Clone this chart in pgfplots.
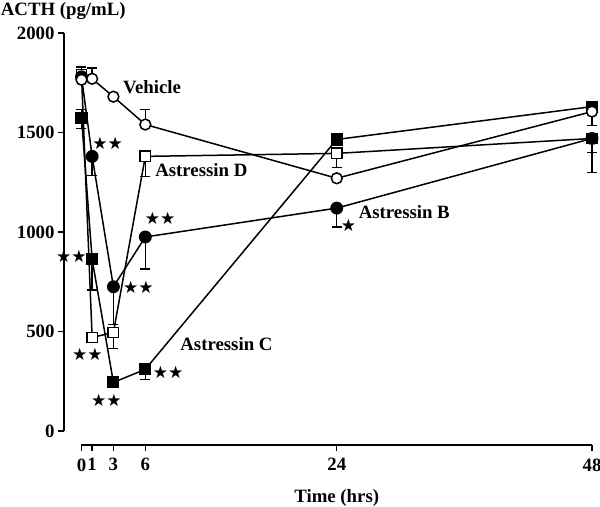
\documentclass[border=0pt]{standalone}
\usepackage{fontspec}
\setmainfont{Liberation Serif}
\newfontfamily\symfont{DejaVu Sans}
\usepackage{pgfplots}
\pgfplotsset{compat=1.18}
\newcommand\stars[1]{{\symfont\fontsize{17bp}{19bp}\selectfont #1}}
\begin{document}
\begin{tikzpicture}[font=\fontsize{18.8bp}{22bp}\selectfont\bfseries]
\begin{axis}[
  name=ax,
  scale only axis,
  width=510.5bp, height=398bp,
  xmin=0, xmax=48, ymin=0, ymax=2000,
  axis lines=left,
  axis line style={-, line width=1.8bp},
  axis x line shift=14bp,
  axis y line shift=17.5bp,
  xtick={0,1,3,6,24,48},
  xticklabels={0,1,3,6,24,48},
  xticklabel style={yshift=-4bp},
  ytick={0,500,1000,1500,2000},
  yticklabels={0,500,1000,1500,2000},
  tick align=outside,
  major tick length=6bp,
  tick style={line width=1.5bp, black},
  clip=false,
  error bars/error bar style={line width=1.5bp, black, solid},
  error bars/error mark=-,
  error bars/error mark options={line width=1.5bp, mark size=5bp, rotate=90, black, solid},
]
% Astressin C
\addplot[black, line width=1.5bp, mark=square*, mark size=5.3bp, mark options={fill=black, draw=black, solid},
  error bars/.cd, y dir=both, y explicit]
  coordinates {(0,1575) += (0,40) -= (0,55) (1,863) += (0,0) -= (0,155) (3,244) += (0,0) -= (0,0)
  (6,310) += (0,0) -= (0,50) (24,1465) += (0,0) -= (0,0) (48,1630) += (0,0) -= (0,0)};
% Astressin D
\addplot[black, line width=1.5bp, mark=square*, mark size=5.2bp, mark options={fill=white, draw=black, solid},
  error bars/.cd, y dir=both, y explicit]
  coordinates {(0,1790) += (0,20) -= (0,0) (1,470) += (0,0) -= (0,0) (3,495) += (0,0) -= (0,80)
  (6,1380) += (0,0) -= (0,100) (24,1395) += (0,0) -= (0,70) (48,1470) += (0,0) -= (0,70)};
% Astressin B
\addplot[black, line width=1.5bp, mark=*, mark size=5.7bp, mark options={fill=black, draw=black, solid},
  error bars/.cd, y dir=both, y explicit]
  coordinates {(0,1780) += (0,0) -= (0,0) (1,1380) += (0,0) -= (0,95) (3,725) += (0,0) -= (0,190)
  (6,975) += (0,0) -= (0,160) (24,1120) += (0,0) -= (0,95) (48,1470) += (0,0) -= (0,170)};
% Vehicle
\addplot[black, line width=1.5bp, mark=*, mark size=5.4bp, mark options={fill=white, draw=black, solid},
  error bars/.cd, y dir=both, y explicit]
  coordinates {(0,1765) += (0,65) -= (0,0) (1,1770) += (0,55) -= (0,0) (3,1680) += (0,0) -= (0,0)
  (6,1540) += (0,75) -= (0,0) (24,1270) += (0,0) -= (0,0) (48,1605) += (0,0) -= (0,70)};

\node[anchor=base west, inner sep=0] at (axis cs:3.9,1697) {Vehicle};
\node[anchor=base west, inner sep=0] at (axis cs:6.92,1278) {Astressin D};
\node[anchor=base west, inner sep=0] at (axis cs:26.05,1069) {Astressin B};
\node[anchor=base west, inner sep=0] at (axis cs:9.28,407) {Astressin C};
\node[anchor=base west, inner sep=0] at (axis cs:-7.6,2090) {ACTH (pg/mL)};
\node[anchor=base, inner sep=0] at (axis cs:24,-357) {Time (hrs)};

\node[inner sep=0] at (axis cs:2.45,1447) {\stars{★★}};
\node[inner sep=0] at (axis cs:-0.95,879) {\stars{★★}};
\node[inner sep=0] at (axis cs:7.4,1070) {\stars{★★}};
\node[inner sep=0] at (axis cs:5.35,724) {\stars{★★}};
\node[inner sep=0] at (axis cs:0.55,387) {\stars{★★}};
\node[inner sep=0] at (axis cs:8.15,296) {\stars{★★}};
\node[inner sep=0] at (axis cs:2.33,156) {\stars{★★}};
\node[inner sep=0] at (axis cs:25.1,1035) {\stars{★}};
\end{axis}
\pgfresetboundingbox
\path[use as bounding box] ([xshift=-81.5bp,yshift=-76bp]ax.south west) rectangle ([xshift=518.5bp,yshift=431bp]ax.south west);
\end{tikzpicture}
\end{document}
